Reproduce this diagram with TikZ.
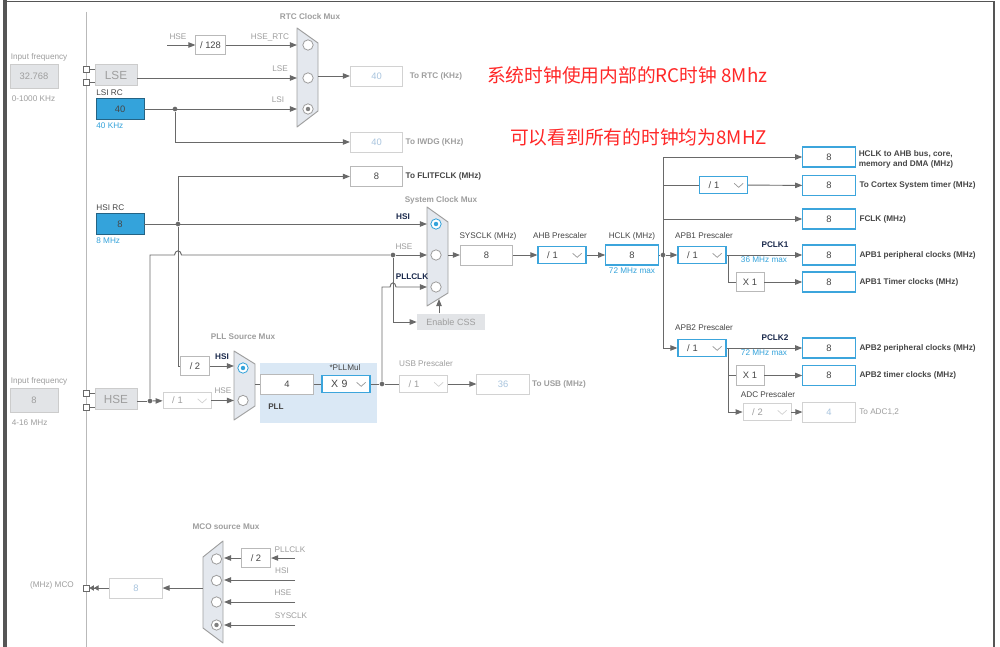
\documentclass[tikz,border=0pt]{standalone}
\usepackage{fontspec}
\setmainfont{Liberation Sans}
\newfontfamily\cjk{Noto Sans CJK SC}
\usetikzlibrary{arrows.meta, positioning, calc}
\definecolor{cline}{RGB}{105,105,105}
\definecolor{cframe}{RGB}{85,85,85}
\definecolor{cblue}{RGB}{52,163,219}
\definecolor{cbord}{RGB}{60,165,220}
\definecolor{cgray}{RGB}{226,228,231}
\definecolor{cmux}{RGB}{228,232,238}
\definecolor{cpll}{RGB}{218,232,245}
\definecolor{ctxt}{RGB}{70,70,70}
\definecolor{cdim}{RGB}{158,158,158}
\definecolor{coff}{RGB}{168,196,222}
\definecolor{cnavy}{RGB}{25,40,75}
\definecolor{cred}{RGB}{255,40,40}
\tikzset{
  chev/.style={path picture={\draw[#1, line width=0.6pt]
      ([xshift=-0.4cm,yshift=0.05cm]path picture bounding box.east)
      -- ++(0.135cm,-0.12cm) -- ++(0.135cm,0.12cm);}},
  pick/.style={path picture={\fill[#1] (path picture bounding box.center) circle (1.9pt);}},
}
\begin{document}
\begin{tikzpicture}[
  x=0.03cm, y=-0.03cm,
  wire/.style    = {cline, line width=0.8pt},
  arr/.style     = {wire, -{Triangle[length=6pt,width=4.6pt]}},
  jdot/.style    = {circle, fill=cline, inner sep=0pt, minimum size=4pt},
  padsq/.style   = {rectangle, draw=cline, fill=white, line width=0.6pt,
                    inner sep=0pt, minimum size=5pt},
  valbox/.style  = {rectangle, draw=gray!55, line width=0.7pt, fill=white,
                    inner sep=0pt, minimum width=1.57cm, minimum height=0.6cm,
                    font=\fontsize{8}{9}\selectfont, text=ctxt},
  bluebox/.style = {valbox, draw=cbord, line width=1pt},
  offbox/.style  = {valbox, draw=gray!35, text=coff},
  divbox/.style  = {valbox, minimum width=#1, minimum height=0.58cm},
  divbox/.default = 0.88cm,
  srcbox/.style  = {rectangle, draw=cbord!60!black, fill=cblue, line width=0.7pt,
                    inner sep=0pt, minimum width=1.44cm, minimum height=0.62cm,
                    font=\fontsize{8}{9}\selectfont, text=ctxt},
  inbox/.style   = {rectangle, draw=gray!40, fill=cgray, line width=0.7pt,
                    inner sep=0pt, minimum width=1.44cm, minimum height=0.72cm,
                    font=\fontsize{8}{9}\selectfont, text=cdim},
  oscbox/.style  = {inbox, minimum width=1.26cm, minimum height=0.62cm,
                    font=\fontsize{10}{11}\selectfont},
  dropbox/.style = {rectangle, draw=cbord, line width=1pt, fill=white,
                    inner ysep=0pt, inner xsep=0.27cm, text width=0.9cm,
                    align=left, minimum height=0.5cm,
                    font=\fontsize{8}{9}\selectfont, text=ctxt, chev=gray!80},
  offdrop/.style = {dropbox, draw=gray!35, line width=0.7pt, text=cdim, chev=gray!35},
  mux/.style     = {draw=gray!75, fill=cmux, line width=0.8pt, line join=round},
  circ/.style    = {circle, draw=gray!75, fill=white, line width=0.7pt,
                    inner sep=0pt, minimum size=0.31cm},
  lbl/.style     = {inner sep=0.5pt, font=\fontsize{7}{8.5}\selectfont, text=ctxt},
  dimlbl/.style  = {lbl, text=cdim},
  bluelbl/.style = {lbl, text=cblue},
  blbl/.style    = {lbl, font=\fontsize{7}{8.5}\selectfont\bfseries, text=ctxt},
  bdim/.style    = {blbl, text=cdim},
  navy/.style    = {blbl, text=cnavy},
  cnote/.style   = {inner sep=0pt, font=\cjk\fontsize{16}{18}\selectfont, text=cred},
]
% Canvas and frame
\fill[white] (0,0) rectangle (1000,647);
\useasboundingbox (0,0) rectangle (1000,647);
\draw[cframe, line width=2.6pt] (5,0) -- (5,647);
\draw[cframe, line width=1.4pt] (4,1.5) -- (994,1.5) -- (994,647);
\draw[gray!55, line width=0.8pt] (86,12) -- (86,647);
\fill[cpll] (260,363) rectangle (377,423);

% Low speed sources
\node[dimlbl, anchor=west] (lsefreqlbl) at (10,57) {Input frequency};
\node[inbox] (lsefreq) at (34,76) {32.768};
\node[dimlbl, anchor=west] (lserange) at (11,99) {0-1000 KHz};
\node[oscbox] (lse) at (116,75) {LSE};
\node[padsq] (lsepa) at (86,69) {};
\node[padsq] (lsepb) at (86,82) {};
\node[srcbox] (lsi) at (120,109) {40};
\node[lbl, above=1.5pt of lsi.north west, anchor=south west] (lsilbl) {LSI RC};
\node[bluelbl, below=2pt of lsi.south west, anchor=north west] (lsikhz) {40 KHz};
\node[jdot] (lsidot) at (175,109) {};

% RTC clock mux
\coordinate (hsertc) at (167,45);
\node[divbox] (div128) at (210.5,45) {/ 128};
\draw[mux] (297,28) -- (318,43) -- (318,111) -- (297,127) -- cycle;
\node[bdim] (rtcmuxlbl) at (310,17) {RTC Clock Mux};
\node[circ] (rtca) at (308,45) {};
\node[circ] (rtcb) at (308,78) {};
\node[circ, pick=gray] (rtcc) at (308,109) {};
\coordinate (rtcina) at (297,45);
\coordinate (rtcinb) at (297,78);
\coordinate (rtcinc) at (297,109);
\coordinate (rtcout) at (318,76);
\node[offbox] (rtcbox) at (376.5,76) {40};
\node[offbox] (iwdg) at (376.5,142) {40};
\node[dimlbl] at (178,37) {HSE};
\node[dimlbl] at (270,37) {HSE\_RTC};
\node[dimlbl] at (280,69) {LSE};
\node[dimlbl] at (278,100) {LSI};
\node[bdim, right=5pt of rtcbox] {To RTC (KHz)};
\node[bdim, right=1.5pt of iwdg] {To IWDG (KHz)};

% HSI source and system clock mux
\node[srcbox] (hsi) at (120,224) {8};
\node[lbl, above=1.5pt of hsi.north west, anchor=south west] (hsilbl) {HSI RC};
\node[bluelbl, below=2pt of hsi.south west, anchor=north west] (hsimhz) {8 MHz};
\node[jdot] (hsidot) at (178,224) {};
\node[valbox] (flit) at (376.5,176.5) {8};
\node[blbl, right=1.5pt of flit] {To FLITFCLK (MHz)};
\draw[mux] (427,207) -- (448,222) -- (448,293) -- (427,306) -- cycle;
\node[bdim] (sysmuxlbl) at (441,200) {System Clock Mux};
\node[circ, draw=cblue, pick=cblue] (sysa) at (436,224) {};
\node[circ] (sysb) at (436,255) {};
\node[circ] (sysc) at (436,287) {};
\coordinate (syshsi) at (427,224);
\coordinate (syshse) at (427,255);
\coordinate (syspll) at (427,287);
\coordinate (sysout) at (448,255);
\coordinate (csstip) at (439,299);
\node[navy] at (403,217) {HSI};
\node[dimlbl] at (404,247) {HSE};
\node[navy] at (412,277) {PLLCLK};
\node[rectangle, fill=cgray, inner sep=0pt, minimum width=2.04cm, minimum height=0.5cm,
      font=\fontsize{7.7}{9}\selectfont, text=cdim] (css) at (451,322) {Enable CSS};

% HSE source
\node[dimlbl, anchor=west] (hsefreqlbl) at (10,381) {Input frequency};
\node[inbox] (hsefreq) at (34,400) {8};
\node[dimlbl, anchor=west] (hserange) at (11,423) {4-16 MHz};
\node[oscbox] (hse) at (116,399) {HSE};
\node[padsq] (hsepa) at (86,393) {};
\node[padsq] (hsepb) at (86,407) {};
\node[jdot] (hsedot) at (150,401) {};
\node[offdrop] (hsediv) at (187,400.5) {/ 1};
\node[jdot] (hsesysdot) at (393,255) {};
\coordinate (hopa) at (174.5,255);
\coordinate (hopb) at (181.5,255);

% PLL
\node[divbox] (div2) at (195,366) {/ 2};
\draw[mux] (234,351) -- (255,364) -- (255,406) -- (234,420) -- cycle;
\node[bdim] (pllmuxlbl) at (243,337) {PLL Source Mux};
\node[circ, draw=cblue, pick=cblue] (pllsrca) at (243,368) {};
\node[circ] (pllsrcb) at (243,400.5) {};
\coordinate (pllina) at (234,366);
\coordinate (pllinb) at (234,400.5);
\coordinate (pllout) at (255,384);
\node[navy] at (222,357) {HSI};
\node[dimlbl] at (223,391) {HSE};
\node[valbox] (pllin) at (287,384) {4};
\node[dropbox, font=\fontsize{9}{10}\selectfont] (pllmul) at (346,384) {X 9};
\node[lbl] at (345,368) {*PLLMul};
\node[blbl] at (276,407) {PLL};
\node[jdot] (plldot) at (382,384) {};
\coordinate (hopc) at (390,287);
\coordinate (hopd) at (396,287);
\node[offdrop] (usbdiv) at (423.5,384) {/ 1};
\node[offbox] (usb) at (503,384) {36};
\node[dimlbl] at (426,364) {USB Prescaler};
\node[bdim, right=1.5pt of usb] {To USB (MHz)};

% AHB
\node[valbox] (sysclk) at (486.5,255) {8};
\node[dropbox] (ahb) at (562,255) {/ 1};
\node[bluebox] (hclk) at (632,255) {8};
\node[lbl] at (488,236) {SYSCLK (MHz)};
\node[lbl] at (560,236) {AHB Prescaler};
\node[lbl] at (632,236) {HCLK (MHz)};
\node[bluelbl] at (632,271) {72 MHz max};
\node[jdot] (busdot) at (663,255) {};
\coordinate (bustop) at (663,157);
\coordinate (busbot) at (663,348);

% Outputs of HCLK
\node[bluebox] (ahbout) at (829,157) {8};
\node[dropbox] (cortexdiv) at (723.5,185) {/ 1};
\node[bluebox] (cortex) at (829,185.5) {8};
\node[bluebox] (fclk) at (829,219) {8};
\node[blbl, anchor=west, align=left] at (858,159) {HCLK to AHB bus, core,\\memory and DMA (MHz)};
\node[blbl, right=2.5pt of cortex] {To Cortex System timer (MHz)};
\node[blbl, right=2.5pt of fclk] {FCLK (MHz)};

% APB1
\node[dropbox] (apb1) at (702,255) {/ 1};
\node[bluebox] (pclk1) at (829,255) {8};
\node[divbox=0.84cm] (tim1mul) at (750,282) {X 1};
\node[bluebox] (tim1) at (829,282) {8};
\coordinate (apb1br) at (728,255);
\node[lbl] at (704,236) {APB1 Prescaler};
\node[navy] at (775,245) {PCLK1};
\node[bluelbl] at (764,260) {36 MHz max};
\node[blbl, right=2.5pt of pclk1] {APB1 peripheral clocks (MHz)};
\node[blbl, right=2.5pt of tim1] {APB1 Timer clocks (MHz)};

% APB2
\node[dropbox] (apb2) at (702,348) {/ 1};
\node[bluebox] (pclk2) at (829,348) {8};
\node[divbox=0.84cm] (tim2mul) at (750,375.5) {X 1};
\node[bluebox] (tim2) at (829,375.5) {8};
\node[offdrop] (adcdiv) at (767,412) {/ 2};
\node[offbox] (adc) at (829,412) {4};
\coordinate (apb2br) at (728,348);
\node[lbl] at (704,328) {APB2 Prescaler};
\node[navy] at (775,338) {PCLK2};
\node[bluelbl] at (764,353) {72 MHz max};
\node[lbl] at (768,395) {ADC Prescaler};
\node[blbl, right=2.5pt of pclk2] {APB2 peripheral clocks (MHz)};
\node[blbl, right=2.5pt of tim2] {APB2 timer clocks (MHz)};
\node[dimlbl, right=2.5pt of adc] {To ADC1,2};

% MCO
\draw[mux] (203,557) -- (223,541) -- (223,643) -- (203,628) -- cycle;
\node[bdim] (mcomuxlbl) at (226,527) {MCO source Mux};
\node[circ] (mcoa) at (216.5,559) {};
\node[circ] (mcob) at (216.5,580.5) {};
\node[circ] (mcoc) at (216.5,602) {};
\node[circ, pick=gray] (mcod) at (216.5,625) {};
\coordinate (mcoina) at (224,558);
\coordinate (mcoinb) at (224,580);
\coordinate (mcoinc) at (224,602);
\coordinate (mcoind) at (224,625);
\coordinate (mcopll) at (295,558);
\coordinate (mcohsi) at (295,580);
\coordinate (mcohse) at (295,602);
\coordinate (mcosys) at (295,625);
\coordinate (mcoout) at (203,588);
\node[divbox] (mcodiv) at (256,558) {/ 2};
\node[offbox] (mco) at (136,588) {8};
\node[padsq] (mcopad) at (86,588) {};
\node[dimlbl] at (290,550) {PLLCLK};
\node[dimlbl] at (282,571) {HSI};
\node[dimlbl] at (283,593) {HSE};
\node[dimlbl] at (291,616) {SYSCLK};
\node[dimlbl] at (52,585) {(MHz) MCO};

% Notes
\node[cnote, anchor=west] (note1) at (487,75) {系统时钟使用内部的RC时钟 8Mhz};
\node[cnote, anchor=west] (note2) at (510,137) {可以看到所有的时钟均为8MHZ};

% Connectors
\draw[wire] (lsepa) -- (lsepa -| lse.west);
\draw[wire] (lsepb) -- (lsepb -| lse.west);
\draw[arr] (hsertc) -- (div128);
\draw[arr] (div128) -- (rtcina);
\draw[arr] (lse.east |- rtcinb) -- (rtcinb);
\draw[arr] (lsi) -- (rtcinc);
\draw[arr] (lsidot) |- (iwdg);
\draw[arr] (rtcout) -- (rtcbox);
\draw[arr] (hsi) -- (syshsi);
\draw[arr] (hsidot) |- (flit);
\draw[wire] (hsidot) |- (div2);
\draw[wire] (hsepa) -- (hsepa -| hse.west);
\draw[wire] (hsepb) -- (hsepb -| hse.west);
\draw[wire] (hse.east |- hsedot) -- (hsedot);
\draw[arr] (hsedot) -- (hsediv);
\draw[wire] (hsedot) |- (hopa) .. controls +(0.5,-5.5) and +(-0.5,-5.5) .. (hopb) -- (hsesysdot);
\draw[arr] (hsesysdot) -- (syshse);
\draw[arr] (hsesysdot) |- (css);
\draw[arr] (css.north -| csstip) -- (csstip);
\draw[arr] (div2) -- (pllina);
\draw[arr] (hsediv) -- (pllinb);
\draw[wire] (pllout) -- (pllin);
\draw[wire] (pllin) -- (pllmul);
\draw[wire] (pllmul) -- (plldot);
\draw[wire] (plldot) -- (usbdiv);
\draw[arr] (usbdiv) -- (usb);
\draw[arr] (plldot) |- (hopc) .. controls +(0.5,-5.5) and +(-0.5,-5.5) .. (hopd) -- (syspll);
\draw[arr] (sysout) -- (sysclk);
\draw[arr] (sysclk) -- (ahb);
\draw[arr] (ahb) -- (hclk);
\draw[wire] (hclk) -- (busdot);
\draw[wire] (bustop) -- (busbot);
\draw[arr] (bustop) -- (ahbout);
\draw[wire] (bustop |- cortexdiv) -- (cortexdiv);
\draw[arr] (cortexdiv) -- (cortex);
\draw[arr] (bustop |- fclk) -- (fclk);
\draw[arr] (busdot) -- (apb1);
\draw[arr] (apb1) -- (pclk1);
\draw[wire] (apb1br) |- (tim1mul);
\draw[arr] (tim1mul) -- (tim1);
\draw[arr] (busbot) -- (apb2);
\draw[arr] (apb2) -- (pclk2);
\draw[wire] (apb2br) |- (tim2mul);
\draw[arr] (apb2br) |- (adcdiv);
\draw[arr] (tim2mul) -- (tim2);
\draw[arr] (adcdiv) -- (adc);
\draw[arr] (mcopll) -- (mcodiv);
\draw[arr] (mcodiv) -- (mcoina);
\draw[arr] (mcohsi) -- (mcoinb);
\draw[arr] (mcohse) -- (mcoinc);
\draw[arr] (mcosys) -- (mcoind);
\draw[arr] (mcoout) -- (mco);
\draw[wire, -{Triangle[length=4pt,width=4.6pt]Triangle[length=4pt,width=4.6pt]}] (mco) -- (mcopad);
\end{tikzpicture}
\end{document}
